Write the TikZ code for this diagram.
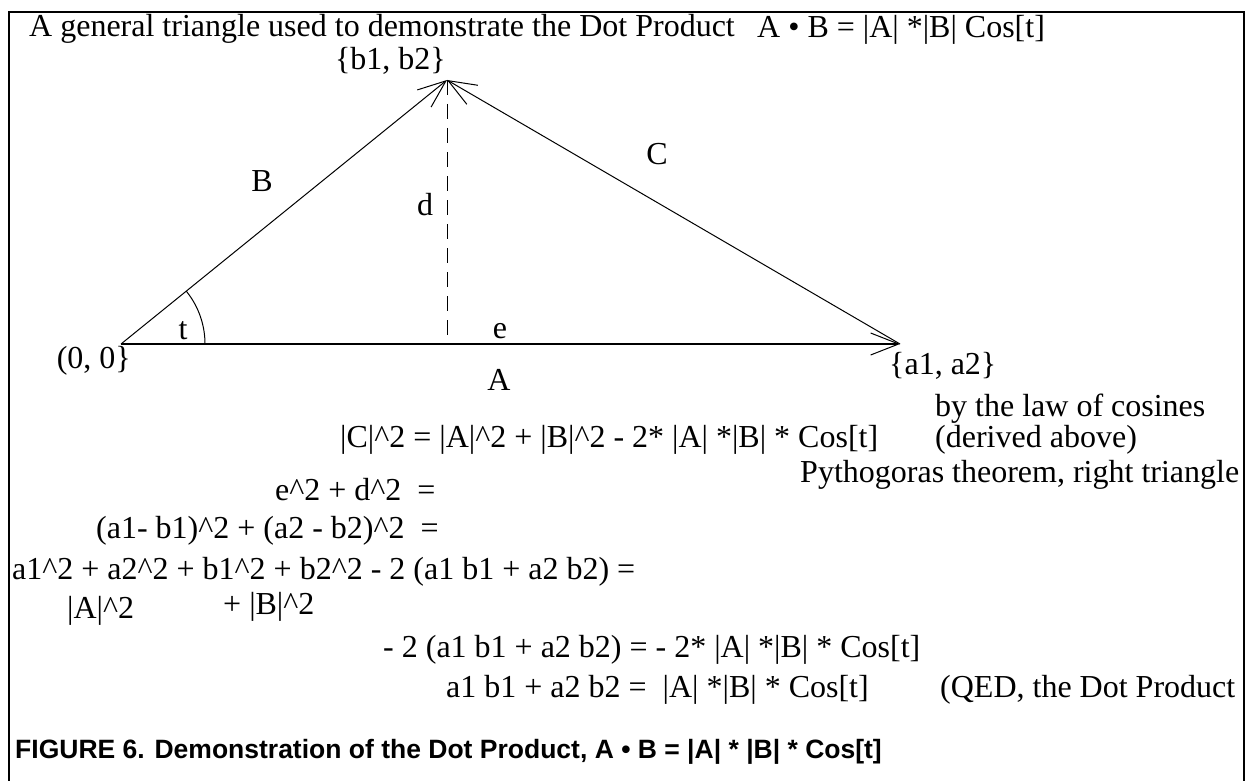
\documentclass[tikz,border=0pt]{standalone}
\usepackage{fontspec}
\setmainfont{Liberation Serif}
\newfontfamily\capfont{Liberation Sans}
\usetikzlibrary{arrows.meta}
\begin{document}
\begin{tikzpicture}[x=1pt,y=-1pt,
  txt/.style={inner sep=0pt, anchor=west, font=\fontsize{32}{38}\selectfont},
  lbl/.style={inner sep=0pt, font=\fontsize{32}{38}\selectfont},
  vec/.style={line width=1pt, -{Straight Barb[length=28pt,width=22pt,line width=1pt]}},
]
\useasboundingbox (0,0) rectangle (1247,781);
\fill[white] (0,0) rectangle (1247,781);
\draw[line width=2pt] (9,781) -- (9,12) -- (1244,12) -- (1244,781);

% triangle
\coordinate (O) at (121,344);
\coordinate (P) at (447,80);
\coordinate (Q) at (900,344);
\coordinate (F) at (447,344);
\draw[vec] (O) -- (P);
\draw[vec] (Q) -- (P);
\draw[vec, line width=1.5pt] (O) -- (Q);
\draw[line width=1pt, dash pattern=on 15pt off 9pt] (P) -- (F);
\draw[line width=1pt] (O) ++(0:84) arc[start angle=0, end angle=-39.0, radius=84];

% title
\node[txt, anchor=base west] (title) at (29,37) {A general triangle used to demonstrate the Dot Product};
\node[txt, anchor=base west] (dot) at (757,38) {A • B = |A| *|B| Cos[t]};

% labels
\node[lbl, anchor=east] (lb) at (446,61) {\{b1, b2\}};
\node[lbl] (lB) at (262,181) {B};
\node[lbl] (lC) at (657,154) {C};
\node[lbl] (ld) at (425,205) {d};
\node[lbl] (lt) at (183,331) {t};
\node[lbl] (le) at (500,331) {e};
\node[lbl] (lA) at (499,380) {A};
\node[lbl, anchor=east] (lo) at (131,361) {(0, 0\}};
\node[lbl, anchor=west] (la) at (889,366) {\{a1, a2\}};

% equations
\node[txt] (e1) at (340,440) {|C|\textasciicircum2 = |A|\textasciicircum2 + |B|\textasciicircum2 - 2* |A| *|B| * Cos[t]};
\node[txt] (r1) at (935,409) {by the law of cosines};
\node[txt] (r2) at (935,440) {(derived above)};
\node[txt] (r3) at (800,475) {Pythogoras theorem, right triangle};
\node[txt] (e2) at (275,490) {e\textasciicircum2 + d\textasciicircum2 \ =};
\node[txt] (e3) at (96,531) {(a1- b1)\textasciicircum2 + (a2 - b2)\textasciicircum2 \ =};
\node[txt] (e4) at (12,572) {a1\textasciicircum2 + a2\textasciicircum2 + b1\textasciicircum2 + b2\textasciicircum2 - 2 (a1 b1 + a2 b2) =};
\node[txt] (e5a) at (67,611) {|A|\textasciicircum2};
\node[txt] (e5b) at (223,607) {+ |B|\textasciicircum2};
\node[txt] (e6) at (383,650) {- 2 (a1 b1 + a2 b2) = - 2* |A| *|B| * Cos[t]};
\node[txt] (e7) at (446,690) {a1 b1 + a2 b2 = \ |A| *|B| * Cos[t]};
\node[txt] (e8) at (940,690) {(QED, the Dot Product};

% caption
\node[txt, font=\capfont\bfseries\fontsize{26.5}{31}\selectfont] (cap) at (15,752) {FIGURE 6. Demonstration of the Dot Product, A • B = |A| * |B| * Cos[t]};
\end{tikzpicture}
\end{document}
